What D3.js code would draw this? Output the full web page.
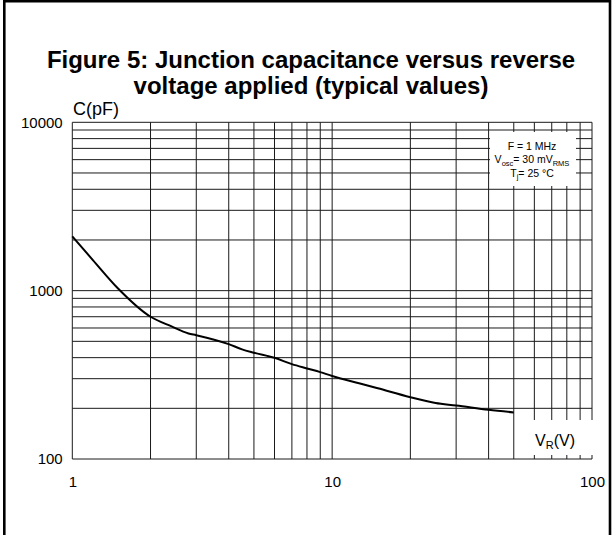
<!DOCTYPE html>
<html><head><meta charset="utf-8">
<script src="https://cdn.jsdelivr.net/npm/d3@7"></script>
<style>body{margin:0;background:#fff}svg{display:block}</style>
</head><body>
<svg id="c" width="615" height="535"></svg>
<script>
// ---- data ----
const voltage     = [1, 1.2, 1.5, 2, 2.4, 2.8, 3, 4, 4.5, 5, 6, 7, 8, 9, 10, 12.8, 15, 20, 25, 30, 40, 50];
const capacitance = [2100, 1520, 1030, 700, 615, 557, 544, 481, 448, 428, 399, 366, 345, 328, 311, 281, 263, 233, 215, 208, 196, 189];
const xTicks = [1, 10, 100];
const yTicks = [100, 1000, 10000];
const xGrid = [1,2,3,4,5,6,7,8,9,10,20,30,40,50,60,70,80,90,100];
const yGrid = [100,200,300,400,500,600,700,800,900,1000,2000,3000,4000,5000,6000,7000,8000,9000,10000];
const titleLines = ["Figure 5: Junction capacitance versus reverse", "voltage applied (typical values)"];
const legendLines = [
  [["F = 1 MHz", false]],
  [["V", false], ["osc", true], ["= 30 mV", false], ["RMS", true]],
  [["T", false], ["j", true], ["= 25 °C", false]]
];

const font = "'Liberation Sans', Arial, Helvetica, sans-serif";
const svg = d3.select('#c');
const x = d3.scaleLog().domain([1, 100]).range([72.3, 592]);
const y = d3.scaleLog().domain([100, 10000]).range([459, 122.3]);

// frame
svg.append('path')
  .attr('d', 'M4.3,536 L4.3,1.3 L610,1.3 L610,536')
  .attr('fill', 'none').attr('stroke', '#000').attr('stroke-width', 2.6);

// title
svg.append('g').selectAll('text').data(titleLines).join('text')
  .attr('x', 311).attr('y', (d, i) => 68 + i * 26)
  .attr('text-anchor', 'middle')
  .attr('font-family', font).attr('font-weight', 'bold').attr('font-size', 24)
  .text(d => d);

// grid
const grid = svg.append('g').attr('stroke', '#1a1a1a').attr('stroke-width', 1);
grid.selectAll('line.v').data(xGrid).join('line').attr('class', 'v')
  .attr('x1', d => x(d)).attr('x2', d => x(d))
  .attr('y1', y(10000)).attr('y2', y(100));
grid.selectAll('line.h').data(yGrid).join('line').attr('class', 'h')
  .attr('x1', x(1)).attr('x2', x(100))
  .attr('y1', d => y(d)).attr('y2', d => y(d));

// white label boxes
svg.append('rect').attr('x', 490).attr('y', 132).attr('width', 86).attr('height', 54).attr('fill', '#fff');
svg.append('rect').attr('x', 515).attr('y', 420).attr('width', 80).attr('height', 35).attr('fill', '#fff');

// curve
const line = d3.line().x(d => x(d[0])).y(d => y(d[1])).curve(d3.curveMonotoneX);
svg.append('path')
  .datum(voltage.map((v, i) => [v, capacitance[i]]))
  .attr('d', line)
  .attr('fill', 'none').attr('stroke', '#000').attr('stroke-width', 2);

// axes labels
const ax = svg.append('g').attr('transform', `translate(${x(1)},0)`)
  .call(d3.axisLeft(y).tickValues(yTicks).tickSize(0).tickPadding(9.6).tickFormat(d3.format('d')));
const bx = svg.append('g').attr('transform', `translate(0,${y(100)})`)
  .call(d3.axisBottom(x).tickValues(xTicks).tickSize(0).tickPadding(17.4).tickFormat(d3.format('d')));
[ax, bx].forEach(g => {
  g.select('.domain').remove();
  g.selectAll('text').attr('font-family', font).attr('font-size', 15).attr('fill', '#000');
});

// axis titles
svg.append('text').attr('x', 73).attr('y', 115)
  .attr('font-family', font).attr('font-size', 18).text('C(pF)');
const vr = svg.append('text').attr('x', 535).attr('y', 446)
  .attr('font-family', font).attr('font-size', 16);
vr.append('tspan').text('V');
vr.append('tspan').attr('font-size', 11).attr('dy', 3).text('R');
vr.append('tspan').attr('dy', -3).text('(V)');

// legend
const lg = svg.append('g');
legendLines.forEach((parts, i) => {
  const t = lg.append('text').attr('x', 532).attr('y', 150 + i * 13.3)
    .attr('text-anchor', 'middle').attr('font-family', font).attr('font-size', 10.5);
  let sub = false;
  parts.forEach(([s, isSub]) => {
    const ts = t.append('tspan').text(s);
    if (isSub && !sub) { ts.attr('font-size', 7.5).attr('dy', 2.5); sub = true; }
    else if (!isSub && sub) { ts.attr('dy', -2.5); sub = false; }
    else if (isSub) ts.attr('font-size', 7.5);
  });
});
</script>
</body></html>
